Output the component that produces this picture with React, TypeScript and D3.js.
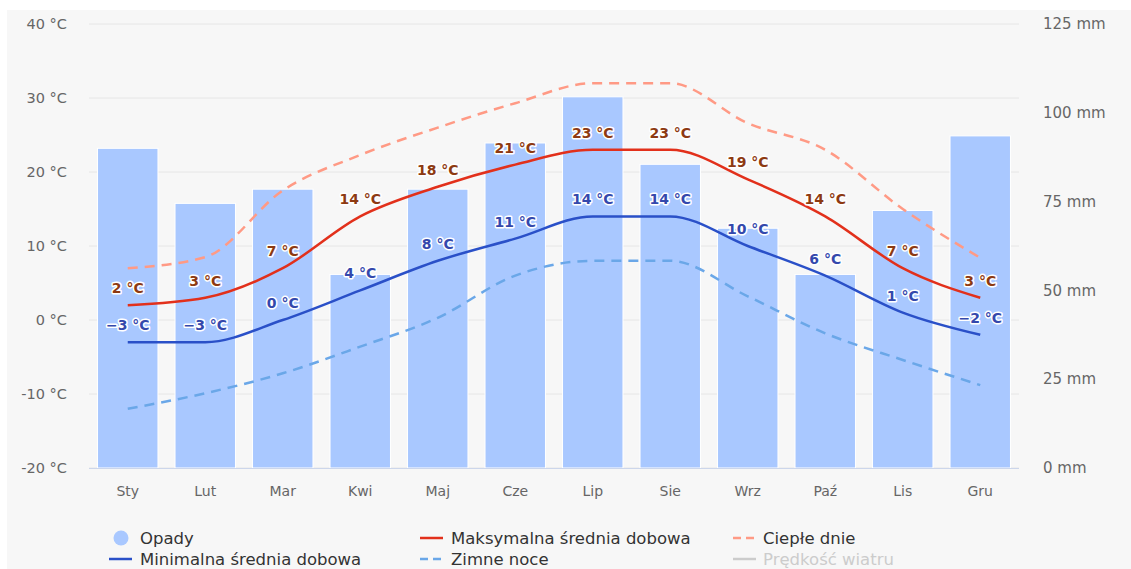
import React from "react";
import * as d3 from "d3";

const months = ["Sty", "Lut", "Mar", "Kwi", "Maj", "Cze", "Lip", "Sie", "Wrz", "Paź", "Lis", "Gru"];
const precipitation = [90, 74.5, 78.5, 54.5, 78.5, 91.5, 104.5, 85.5, 67.5, 54.5, 72.5, 93.5];
const maxTemp = [2, 3, 7, 14, 18, 21, 23, 23, 19, 14, 7, 3];
const minTemp = [-3, -3, 0, 4, 8, 11, 14, 14, 10, 6, 1, -2];
const warmDays = [7, 8.5, 17.5, 22.3, 26, 29.3, 32, 32, 26.6, 23, 15, 8.4];
const coldNights = [-12, -9.9, -7.2, -3.6, 0.3, 6, 8, 8, 3.2, -1.8, -5.4, -8.8];
const tempTicks = [-20, -10, 0, 10, 20, 30, 40];
const mmTicks = [0, 25, 50, 75, 100, 125];

const W = 1131, H = 569;
const left = 89, right = 1019, top = 24, bottom = 468;
const FONT = "'DejaVu Sans', Verdana, sans-serif";

export default function App() {
  const x = d3.scaleBand<string>().domain(months).range([left, right]).paddingInner(0.22).paddingOuter(0.11);
  const yT = d3.scaleLinear().domain([-20, 40]).range([bottom, top]);
  const yP = d3.scaleLinear().domain([0, 125]).range([bottom, top]);
  const cx = (i: number) => (x(months[i]) as number) + x.bandwidth() / 2;
  const line = d3.line<number>().x((_, i) => cx(i)).y((d) => yT(d)).curve(d3.curveMonotoneX);

  const labelStyle = (color: string): React.CSSProperties => ({
    fill: color,
    stroke: "#fff",
    strokeWidth: 3,
    paintOrder: "stroke",
    strokeLinejoin: "round",
    fontSize: 14,
    fontWeight: "bold",
    fontFamily: FONT,
  });

  const legendRow1 = 538, legendRow2 = 559;
  return (
    <svg width={W} height={H} style={{ position: "absolute", left: 0, top: 0 }}>
      <rect x={0} y={0} width={W} height={H} fill="#fff" />
      <rect x={7} y={10} width={W - 7} height={H - 10} fill="#f7f7f7" />
      {tempTicks.map((t) => (
        <line key={t} x1={left} x2={right} y1={yT(t)} y2={yT(t)} stroke="#e6e6e6" strokeWidth={1} />
      ))}
      {tempTicks.map((t) => (
        <text key={"l" + t} x={67} y={yT(t)} dy="0.35em" textAnchor="end" fill="#666" fontSize={14.5} fontFamily={FONT}>
          {t} °C
        </text>
      ))}
      {mmTicks.map((t) => (
        <text key={"r" + t} x={1043} y={yP(t)} dy="0.35em" textAnchor="start" fill="#666" fontSize={15} fontFamily={FONT}>
          {t} mm
        </text>
      ))}
      {precipitation.map((p, i) => (
        <rect key={i} x={x(months[i])} y={yP(p)} width={x.bandwidth()} height={bottom - yP(p)} fill="#a9c8ff" stroke="#fff" strokeWidth={1} />
      ))}
      <line x1={left} x2={right} y1={bottom + 0.5} y2={bottom + 0.5} stroke="#ccd6eb" />
      {months.map((m, i) => (
        <text key={m} x={cx(i)} y={491} dy="0.35em" textAnchor="middle" fill="#666" fontSize={14} fontFamily={FONT}>
          {m}
        </text>
      ))}
      <path d={line(coldNights) || ""} fill="none" stroke="#6aa7e8" strokeWidth={2.5} strokeDasharray="10,7" />
      <path d={line(warmDays) || ""} fill="none" stroke="#ff9a85" strokeWidth={2.5} strokeDasharray="10,7" />
      <path d={line(minTemp) || ""} fill="none" stroke="#2a50c8" strokeWidth={2.5} />
      <path d={line(maxTemp) || ""} fill="none" stroke="#e2301b" strokeWidth={2.5} />
      {maxTemp.map((t, i) => (
        <text key={"mx" + i} x={cx(i)} y={yT(t) - 17} dy="0.35em" textAnchor="middle" style={labelStyle("#8d3a12")}>
          {t} °C
        </text>
      ))}
      {minTemp.map((t, i) => (
        <text key={"mn" + i} x={cx(i)} y={yT(t) - 17} dy="0.35em" textAnchor="middle" style={labelStyle("#3448ac")}>
          {t < 0 ? "−" + Math.abs(t) : t} °C
        </text>
      ))}
      {/* Legend */}
      <g fontFamily={FONT} fontSize={16.5} fill="#333">
        <circle cx={121} cy={legendRow1} r={7.5} fill="#a9c8ff" />
        <text x={140} y={legendRow1} dy="0.35em">Opady</text>
        <line x1={109} x2={132} y1={legendRow2} y2={legendRow2} stroke="#2a50c8" strokeWidth={2.5} />
        <text x={140} y={legendRow2} dy="0.35em">Minimalna średnia dobowa</text>
        <line x1={420} x2={443} y1={legendRow1} y2={legendRow1} stroke="#e2301b" strokeWidth={2.5} />
        <text x={451} y={legendRow1} dy="0.35em">Maksymalna średnia dobowa</text>
        <line x1={420} x2={443} y1={legendRow2} y2={legendRow2} stroke="#6aa7e8" strokeWidth={2.5} strokeDasharray="8,5" />
        <text x={451} y={legendRow2} dy="0.35em">Zimne noce</text>
        <line x1={733} x2={756} y1={legendRow1} y2={legendRow1} stroke="#ff9a85" strokeWidth={2.5} strokeDasharray="8,5" />
        <text x={763} y={legendRow1} dy="0.35em">Ciepłe dnie</text>
        <line x1={733} x2={756} y1={legendRow2} y2={legendRow2} stroke="#ccc" strokeWidth={2.5} />
        <text x={763} y={legendRow2} dy="0.35em" fill="#ccc">Prędkość wiatru</text>
      </g>
    </svg>
  );
}
